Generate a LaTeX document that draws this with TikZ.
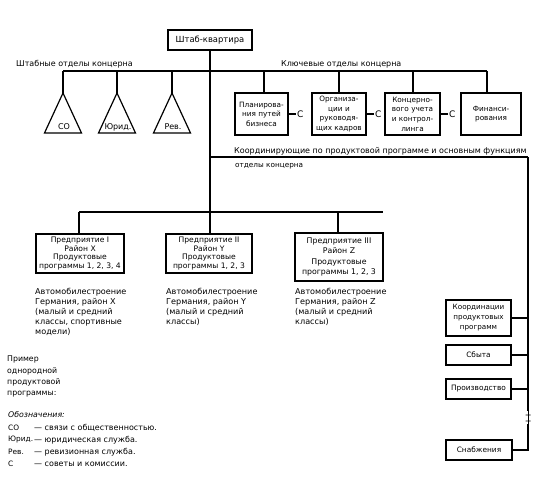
\documentclass[tikz,border=0pt]{standalone}
\usepackage{fontspec}
\setmainfont{DejaVu Sans}
\begin{document}
\begin{tikzpicture}[x=1pt,y=-1pt,
  ln/.style={line width=1.1pt},
  box/.style={draw,line width=1.2pt,inner sep=0.5pt,align=center,font=\fontsize{7}{8}\selectfont},
  lbl/.style={inner sep=0pt,font=\fontsize{8}{9}\selectfont},
  small/.style={inner sep=0pt,align=left,font=\fontsize{8.1}{10}\selectfont},
  tri/.style={line width=1.2pt}]
\useasboundingbox (0,0) rectangle (540,487);
% HQ
\node[box,minimum width=84pt,minimum height=20pt,font=\fontsize{8.4}{9}\selectfont] (hq) at (210,40) {Штаб-квартира};
% labels of top line
\node[lbl,anchor=west] (staff) at (16,64) {Штабные отделы концерна};
\node[lbl,anchor=west] (key) at (281,64) {Ключевые отделы концерна};
\coordinate (tl) at (63,71);
\coordinate (tr) at (487,71);
\draw[ln] (tl) -- (tr);
% triangles
\foreach \n/\x/\t in {1/63/СО,2/117/Юрид.,3/172/Рев.}{
  \coordinate (ta\n) at (\x,93);
  \draw[ln] (\x,71) -- (ta\n);
  \draw[tri] (ta\n) -- (\x-18.5,133) -- (\x+18.5,133) -- cycle;
  \node[inner sep=0pt,font=\fontsize{8}{8}\selectfont] (tl\n) at (\x+1,127) {\t};
}
% key boxes
\node[box,minimum width=53pt,minimum height=42pt,font=\fontsize{7.3}{9.5}\selectfont] (k1) at (261.5,114) {Планирова-\\ния путей\\бизнеса};
\node[box,minimum width=54pt,minimum height=42pt,font=\fontsize{7.3}{9.6}\selectfont] (k2) at (339,114) {Организа-\\ции и\\руководя-\\щих кадров};
\node[box,minimum width=55pt,minimum height=42pt,font=\fontsize{7.3}{9.6}\selectfont] (k3) at (412.5,114) {Концерно-\\вого учета\\и контрол-\\линга};
\node[box,minimum width=60pt,minimum height=42pt,font=\fontsize{7.3}{9.6}\selectfont] (k4) at (491,114) {Финанси-\\рования};
\draw[ln] (264,71) -- (264,0 |- k1.north);
\draw[ln] (k2.north |- tl) -- (k2.north);
\draw[ln] (413,71) -- (413,0 |- k3.north);
\draw[ln] (tr) -- (487,0 |- k4.north);
% C markers
\foreach \k in {k1,k2,k3}{
  \draw[ln] (\k.east) -- ++(7,0) node[right,inner sep=1pt,font=\fontsize{9}{9}\selectfont] (c\k) {С};
}
% coordinating line
\node[lbl,anchor=west,font=\fontsize{8}{9}\selectfont] (coord) at (234,151) {Координирующие по продуктовой программе и основным функциям};
\node[lbl,anchor=west,font=\fontsize{7.3}{9}\selectfont] (coord2) at (235,166) {отделы концерна};
\coordinate (cl) at (210,157);
\coordinate (cr) at (528,157);
\draw[ln] (cl) -- (cr);
% enterprises
\node[box,minimum width=88pt,minimum height=39pt,font=\fontsize{7.6}{8.8}\selectfont] (e1) at (80,253.5) {Предприятие I\\Район X\\Продуктовые\\программы 1, 2, 3, 4};
\node[box,minimum width=86pt,minimum height=39pt,font=\fontsize{7.6}{8.8}\selectfont] (e2) at (209,253.5) {Предприятие II\\Район Y\\Продуктовые\\программы 1, 2, 3};
\node[box,minimum width=88pt,minimum height=48pt,font=\fontsize{7.8}{10.5}\selectfont] (e3) at (339,257) {Предприятие III\\Район Z\\Продуктовые\\программы 1, 2, 3};
\coordinate (el) at (79,212);
\coordinate (er) at (383,212);
\draw[ln] (el) -- (er);
\draw[ln] (hq.south) -- (210,0 |- e2.north);
\draw[ln] (el) -- (79,0 |- e1.north);
\draw[ln] (338,212) -- (338,0 |- e3.north);
% enterprise descriptions
\node[small,anchor=north west] (d1) at (35,288) {Автомобилестроение\\Германия, район X\\(малый и средний\\классы, спортивные\\модели)};
\node[small,anchor=north west] (d2) at (166,288) {Автомобилестроение\\Германия, район Y\\(малый и средний\\классы)};
\node[small,anchor=north west] (d3) at (295,288) {Автомобилестроение\\Германия, район Z\\(малый и средний\\классы)};
% right column
\node[box,minimum width=65pt,minimum height=36pt,font=\fontsize{7.2}{10}\selectfont] (r1) at (478.5,318) {Координации\\продуктовых\\программ};
\node[box,minimum width=65pt,minimum height=20pt,font=\fontsize{7.4}{8}\selectfont] (r2) at (478.5,355) {Сбыта};
\node[box,minimum width=65pt,minimum height=20pt,font=\fontsize{7.4}{8}\selectfont] (r3) at (478.5,389) {Производство};
\node[box,minimum width=66pt,minimum height=20pt,font=\fontsize{7.4}{8}\selectfont] (r4) at (479,450) {Снабжения};
\coordinate (b1) at (528,411);
\coordinate (b2) at (528,424);
\draw[ln] (cr) -- (b1);
\draw[line width=0.6pt] (b1) -- (b2);
\draw[line width=0.8pt] (525.5,415) .. controls (527,413.5) and (528,416.5) .. (530.5,415);
\draw[line width=0.8pt] (525.5,421) .. controls (527,419.5) and (528,422.5) .. (530.5,421);
\draw[ln] (b2) -- (528,0 |- r4.east) -- (r4.east);
\draw[ln] (r1.east) -- (528,0 |- r1.east);
\draw[ln] (r2.east) -- (528,0 |- r2.east);
\draw[ln] (r3.east) -- (528,0 |- r3.east);
% legend
\node[small,anchor=north west,font=\fontsize{7.8}{11.2}\selectfont] (ex) at (7,356) {Пример\\однородной\\продуктовой\\программы:};
\node[small,anchor=west,font=\itshape\fontsize{7.8}{9}\selectfont] (leg) at (8,415) {Обозначения:};
\foreach \y/\a/\b in {428/СО/связи с общественностью.,440/Юрид./юридическая служба.,452/Рев./ревизионная служба.,464/С/советы и комиссии.}{
  \node[small,anchor=west,font=\fontsize{7.4}{10}\selectfont] at (8,\y) {\a};
  \node[small,anchor=west,font=\fontsize{8}{10}\selectfont] at (34,\y) {— \b};
}
\end{tikzpicture}
\end{document}
